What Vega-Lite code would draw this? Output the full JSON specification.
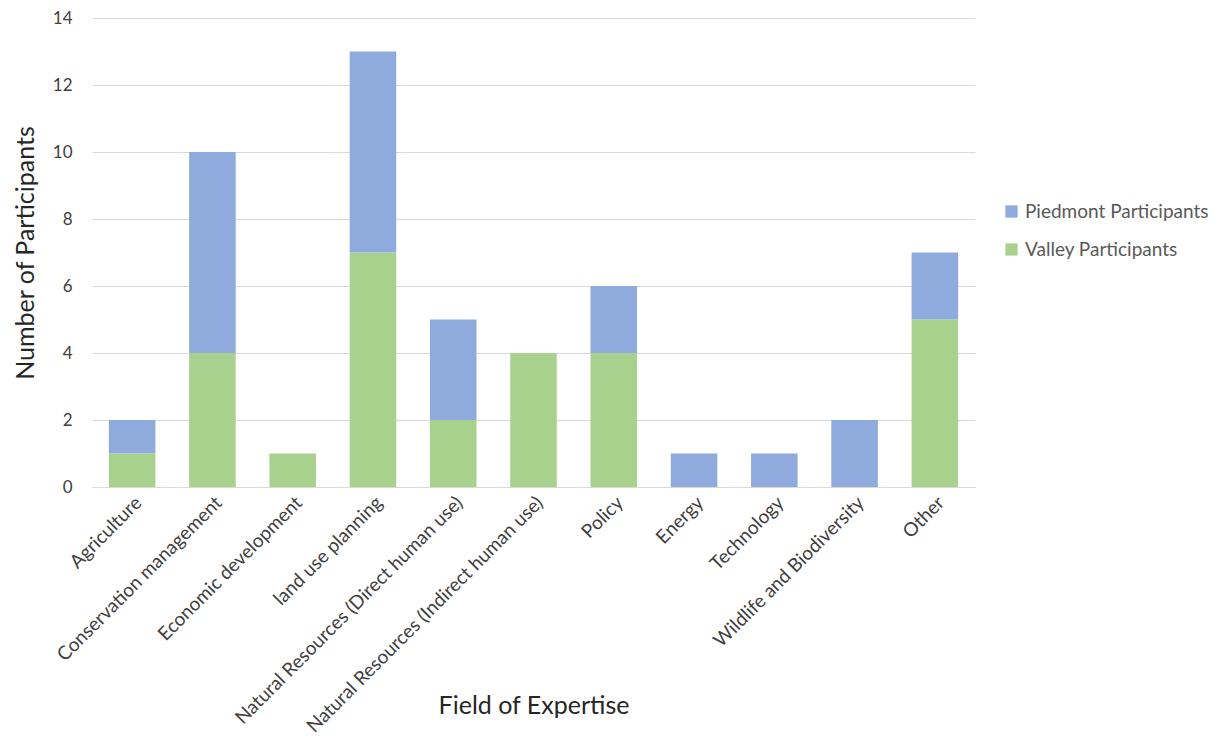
{
  "$schema": "https://vega.github.io/schema/vega-lite/v6.json",
  "width": 883,
  "height": 469,
  "padding": {"left": 13, "top": 9, "right": 5, "bottom": 0},
  "background": "white",
  "config": {
    "font": "Lato",
    "view": {"stroke": null},
    "axis": {"labelColor": "#404040", "titleColor": "#262626", "titleFontWeight": "normal"}
  },
  "data": {
    "values": [
      {"field": "Agriculture", "series": "Valley Participants", "count": 1},
      {"field": "Agriculture", "series": "Piedmont Participants", "count": 1},
      {"field": "Conservation management", "series": "Valley Participants", "count": 4},
      {"field": "Conservation management", "series": "Piedmont Participants", "count": 6},
      {"field": "Economic development", "series": "Valley Participants", "count": 1},
      {"field": "Economic development", "series": "Piedmont Participants", "count": 0},
      {"field": "land use planning", "series": "Valley Participants", "count": 7},
      {"field": "land use planning", "series": "Piedmont Participants", "count": 6},
      {"field": "Natural Resources (Direct human use)", "series": "Valley Participants", "count": 2},
      {"field": "Natural Resources (Direct human use)", "series": "Piedmont Participants", "count": 3},
      {"field": "Natural Resources (Indirect human use)", "series": "Valley Participants", "count": 4},
      {"field": "Natural Resources (Indirect human use)", "series": "Piedmont Participants", "count": 0},
      {"field": "Policy", "series": "Valley Participants", "count": 4},
      {"field": "Policy", "series": "Piedmont Participants", "count": 2},
      {"field": "Energy", "series": "Valley Participants", "count": 0},
      {"field": "Energy", "series": "Piedmont Participants", "count": 1},
      {"field": "Technology", "series": "Valley Participants", "count": 0},
      {"field": "Technology", "series": "Piedmont Participants", "count": 1},
      {"field": "Wildlife and Biodiversity", "series": "Valley Participants", "count": 0},
      {"field": "Wildlife and Biodiversity", "series": "Piedmont Participants", "count": 2},
      {"field": "Other", "series": "Valley Participants", "count": 5},
      {"field": "Other", "series": "Piedmont Participants", "count": 2}
    ]
  },
  "mark": {"type": "bar"},
  "encoding": {
    "x": {
      "field": "field",
      "type": "nominal",
      "sort": null,
      "scale": {"paddingInner": 0.42, "paddingOuter": 0.21},
      "title": "Field of Expertise",
      "axis": {
        "labelAngle": -45,
        "labelFontSize": 19,
        "labelLimit": 0,
        "labelPadding": 6,
        "labelDx": 8,
        "ticks": false,
        "domainColor": "#D9D9D9",
        "titleFontSize": 25,
        "titlePadding": 6
      }
    },
    "y": {
      "field": "count",
      "type": "quantitative",
      "stack": "zero",
      "scale": {"domain": [0, 14]},
      "title": "Number of Participants",
      "axis": {
        "values": [0, 2, 4, 6, 8, 10, 12, 14],
        "domain": false,
        "ticks": false,
        "gridColor": "#D9D9D9",
        "labelFontSize": 17,
        "labelPadding": 20,
        "titleFontSize": 25,
        "titlePadding": 14
      }
    },
    "color": {
      "field": "series",
      "type": "nominal",
      "scale": {
        "domain": ["Piedmont Participants", "Valley Participants"],
        "range": ["#8FAADC", "#A9D18E"]
      },
      "legend": {
        "title": null,
        "orient": "none",
        "legendX": 910,
        "legendY": 184,
        "symbolType": "square",
        "symbolSize": 150,
        "symbolStrokeWidth": 0,
        "labelFontSize": 19,
        "labelLimit": 0,
        "labelColor": "#595959",
        "rowPadding": 18
      }
    },
    "order": {"field": "series", "sort": "descending"}
  }
}
